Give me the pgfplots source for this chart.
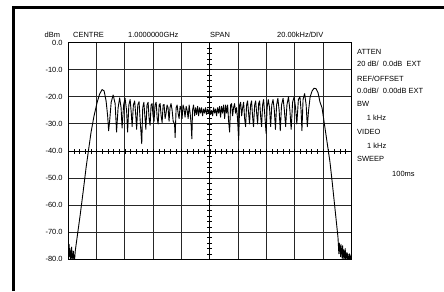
\documentclass[border=0pt]{standalone}
\usepackage{fontspec}
\setmainfont{Liberation Sans}
\usepackage{pgfplots}
\pgfplotsset{compat=1.18}
\newcommand\fs{\fontsize{7.5}{9}\selectfont}
\begin{document}
\begin{tikzpicture}[x=1bp,y=1bp]
\path[use as bounding box] (0,0) rectangle (444,291);
\draw[line width=3bp] (13,0) -- (13,283.5) -- (444,283.5);
\begin{axis}[name=ax, at={(68.3bp,31.7bp)}, anchor=south west,
  scale only axis, width=283bp, height=216.6bp,
  xmin=-100, xmax=100, ymin=-80, ymax=0,
  xtick={-80,-60,-40,-20,20,40,60,80},
  xticklabel style={text opacity=0},
  ytick={-80,-70,-60,-50,-30,-20,-10,0},
  yticklabels={-80.0,-70.0,-60.0,-50.0,-30.0,-20.0,-10.0,0.0},
  extra y ticks={-40}, extra y tick labels={-40.0},
  extra y tick style={grid=none},
  major tick length=0pt,
  grid=major, grid style={black!85, line width=0.9bp},
  axis line style={line width=1bp},
  yticklabel style={font=\fs, inner sep=0pt, xshift=-5.5bp},
  ]
\addplot[black, line width=0.9bp, line join=round, mark=none] coordinates {
(-100,-72)(-99.7,-77)(-99.4,-74.5)(-99.1,-79)(-98.8,-76)(-98.5,-80)(-98.2,-77)(-97.9,-79.5)(-97.6,-75.5)(-97.3,-80)(-97,-78)(-96.7,-79.5)(-96.4,-77)(-96.1,-80)(-95.8,-78.5)(-95.5,-79.8)(-95.1,-77)
(-93.8,-72)(-91.7,-64)(-89.5,-55)(-87.4,-46)(-85.8,-40)(-83.9,-33)(-81.8,-27)(-79.6,-22)(-77.9,-19)(-76.1,-17.3)(-74.7,-17.8)(-73.3,-21.5)(-72.2,-27)(-71.5,-32.5)(-70.8,-29)(-69.7,-22)(-68.3,-19.3)(-66.9,-22.5)(-65.9,-33)(-64.8,-24)(-63.7,-20.4)(-62.7,-24)(-62,-31.5)(-60.9,-23)(-59.9,-20.5)(-58.8,-25)(-58.1,-33)(-57.2,-23)(-56.3,-21)(-55.5,-26)(-54.9,-31)(-54,-23)(-53.1,-21.5)(-52.3,-27)(-51.7,-32)(-50.9,-23)(-50,-21.8)(-49.3,-28)(-48.1,-37.3)(-47.4,-24)(-46.6,-22)(-45.9,-27)(-45.2,-32)(-44.4,-23)(-43.6,-22)(-42.9,-28)(-42.2,-30.5)(-41.5,-23)(-40.8,-22.5)(-40.1,-27)(-39.4,-29)(-38.7,-23)(-37.9,-22)(-37.2,-28)(-36.5,-30)(-35.8,-23)(-35.1,-22.5)(-34.4,-27)(-33.7,-29.5)(-33,-23)(-32.3,-22.8)(-31.6,-28)(-30.9,-26)(-30.2,-23)(-29.5,-24)(-28.8,-29)(-28.1,-24)(-27.4,-22.5)(-26.6,-25)(-25.9,-29)(-24.9,-30)(-24.5,-35)(-23.8,-24)(-23.1,-23)(-22.4,-26)(-21.7,-28)(-21,-23.5)(-20.3,-24)(-19.6,-28)(-18.9,-23)(-18.2,-24.5)(-17.5,-27.5)(-16.7,-23.5)(-16,-25)(-15.3,-28)(-14.6,-23)(-13.9,-26)(-13.2,-30)(-12.7,-35.5)(-12.2,-25)(-11.5,-23)(-10.7,-27)(-10,-24)(-9.3,-26.5)(-8.6,-23.5)(-7.9,-27)(-7.2,-24)(-6.5,-26)(-5.8,-24)(-5.1,-27)(-4.4,-24.5)(-3.7,-26)(-3,-24)(-2.3,-26.5)(-1.6,-24.5)(-0.8,-26)(-0.1,-24)
(0.6,-26.5)(1.3,-25)(2,-27)(2.7,-24)(3.4,-26)(4.1,-24.5)(4.8,-27)(5.5,-24)(6.2,-26)(6.9,-23.5)(7.6,-27.5)(8.3,-23.5)(9,-26)(9.8,-23)(10.5,-28)(11.2,-23)(11.9,-26)(12.6,-23)(13.3,-29)(14,-33)(14.7,-23)(15.4,-22.5)(16.1,-27)(16.8,-24)(17.5,-22.5)(18.2,-26)(18.9,-24)(19.6,-28)(20.4,-36)(21.1,-23)(21.8,-22)(22.5,-27)(23.2,-24)(23.9,-22)(24.6,-28)(25.3,-31)(26,-23)(26.7,-21.5)(27.4,-26)(28.1,-30)(28.8,-23)(29.5,-21.5)(30.2,-27)(30.9,-31)(31.7,-23)(32.4,-21.5)(33.1,-26)(33.8,-30)(34.5,-22.5)(35.2,-21.5)(35.9,-27)(36.6,-31)(37.3,-23)(38,-21)(38.9,-27)(39.8,-33.5)(40.5,-24)(41.3,-21)(42.2,-24)(43,-31)(43.8,-23)(44.7,-21)(45.6,-25)(46.4,-32)(47.2,-23)(48.1,-20.5)(49,-25)(49.8,-32.5)(50.7,-23)(51.8,-20.5)(52.7,-25)(53.6,-31)(54.5,-23)(55.6,-20)(56.6,-25)(57.5,-32)(58.5,-22)(59.6,-20)(60.6,-24)(61.5,-30)(62.6,-21)(63.7,-20)(64.5,-25)(65.1,-32.5)(65.9,-21)(67,-18.8)(68.1,-23)(68.9,-31)(69.8,-25)(70.9,-20)(72.3,-17.8)(73.7,-16.8)(75.1,-17)(76.5,-18.5)(77.9,-22)(79.3,-24)(80.7,-29)(82.1,-34)(83.5,-39)(84.9,-44)(86.4,-51)(87.8,-58)(89.2,-65)(90.6,-72)(90.9,-75)
(91.2,-78)(91.5,-74)(91.8,-77)(92.1,-75)(92.4,-79)(92.7,-74.5)(93,-78)(93.3,-76)(93.6,-80)(93.9,-75)(94.2,-79)(94.5,-76.5)(94.8,-80)(95.1,-77)(95.4,-79.5)(95.7,-76)(96,-80)(96.3,-78)(96.6,-79.5)(96.9,-77.5)(97.2,-80)(97.5,-78)(97.8,-80)(98.1,-79)(98.4,-80)(98.7,-78)(99,-80)(99.3,-79)(99.6,-80)(100,-78)
};
\end{axis}
% centre graticule lines with small division marks
\draw[line width=0.7bp] (209.8,31.7) -- (209.8,248.3);
\foreach \i in {1,...,39} \draw[line width=0.6bp] (207.3,31.7+\i*5.415) -- ++(5,0);
\draw[line width=0.7bp] (68.3,140) -- (351.3,140);
\foreach \i in {1,...,49} \draw[line width=0.6bp] (68.3+\i*5.66,137.5) -- ++(0,5);
% header
\node[anchor=base west, font=\fs, inner sep=0pt] at (44.5,253.6) {dBm};
\node[anchor=base west, font=\fs, inner sep=0pt] at (73,253.6) {CENTRE};
\node[anchor=base west, font=\fs, inner sep=0pt] at (128,253.6) {1.0000000GHz};
\node[anchor=base west, font=\fs, inner sep=0pt] at (210,253.6) {SPAN};
\node[anchor=base west, font=\fs, inner sep=0pt] at (277,253.6) {20.00kHz/DIV};
% settings column
\node[anchor=base west, font=\fs, inner sep=0pt] at (357,236.3) {ATTEN};
\node[anchor=base west, font=\fs, inner sep=0pt] at (357,224.8) {20 dB/\ \ 0.0dB\ \ EXT};
\node[anchor=base west, font=\fs, inner sep=0pt] at (357,209.3) {REF/OFFSET};
\node[anchor=base west, font=\fs, inner sep=0pt] at (357,197.3) {0.0dB/\ \ 0.00dB EXT};
\node[anchor=base west, font=\fs, inner sep=0pt] at (357,184.8) {BW};
\node[anchor=base west, font=\fs, inner sep=0pt] at (366.7,170.3) {1 kHz};
\node[anchor=base west, font=\fs, inner sep=0pt] at (357,156.3) {VIDEO};
\node[anchor=base west, font=\fs, inner sep=0pt] at (367,142.8) {1 kHz};
\node[anchor=base west, font=\fs, inner sep=0pt] at (357,129.3) {SWEEP};
\node[anchor=base west, font=\fs, inner sep=0pt] at (392,115) {100ms};
\end{tikzpicture}
\end{document}
